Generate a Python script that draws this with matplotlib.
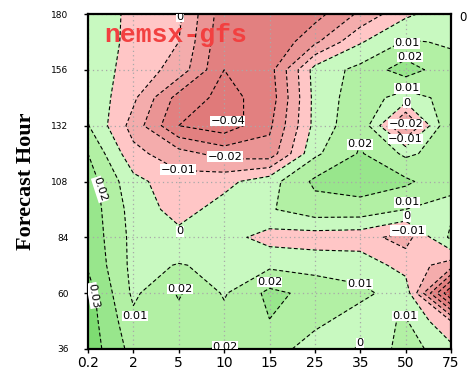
import numpy as np
import matplotlib
matplotlib.use("Agg")
import matplotlib.pyplot as plt

# ---------------- data ----------------
x_labels = ['0.2', '2', '5', '10', '15', '25', '35', '50', '75']
hours = [36, 48, 60, 72, 84, 96, 108, 120, 132, 144, 156, 168, 180]
y_ticks = [36, 60, 84, 108, 132, 156, 180]

# field values per forecast hour (one value per x category)
f180 = [0.008, -0.003, -0.008, -0.036, -0.038, -0.034, -0.018, -0.002, 0.006]
f168 = [0.007, -0.003, -0.010, -0.038, -0.040, -0.022, -0.001, 0.011, 0.009]
f156 = [0.006, -0.004, -0.014, -0.040, -0.034, 0.004, 0.013, 0.025, 0.013]
f144 = [0.008, -0.008, -0.034, -0.043, -0.036, 0.003, 0.016, 0.005, 0.014]
f132 = [0.0105, -0.014, -0.040, -0.046, -0.032, 0.003, 0.018, -0.024, 0.021]
f120 = [0.020, -0.007, -0.016, -0.024, -0.026, 0.008, 0.021, 0.008, 0.015]
f108 = [0.025, 0.003, -0.006, -0.003, 0.006, 0.022, 0.025, 0.022, 0.012]
f96 = [0.026, 0.006, -0.004, 0.004, 0.009, 0.016, 0.016, 0.010, 0.008]
f84 = [0.027, 0.007, 0.003, 0.004, -0.004, -0.005, -0.006, -0.014, 0.012]
f72 = [0.029, 0.007, 0.0105, 0.008, 0.008, 0.006, 0.006, -0.004, -0.015]
f60 = [0.034, 0.008, 0.021, 0.009, 0.0225, 0.017, 0.012, 0.006, -0.060]
f48 = [0.035, 0.0125, 0.017, 0.013, 0.0198, 0.012, 0.006, 0.011, -0.010]
f36 = [0.036, 0.0163, 0.018, 0.021, 0.014, 0.006, -0.001, 0.015, 0.003]

fill_levels = [-1.0, -0.05, -0.04, -0.03, -0.02, -0.01, 0.0, 0.01, 0.02, 0.03, 1.0]
fill_colors = ['#d65a5a', '#e07a7a', '#e28080', '#ea9494', '#f4acac', '#ffc6c6',
               '#c8f9c0', '#b2f0a4', '#98e68c', '#7edc72']
line_levels = [-0.05, -0.04, -0.03, -0.02, -0.01, 0.0, 0.01, 0.02, 0.03]

# contour label texts and where they sit
label_text = ['0', '0.01', '0.02', '0.01', '0', '\u22120.02', '\u22120.01', '0.02',
              '\u22120.04', '\u22120.02', '\u22120.01', '0.02', '0', '0.01', '0',
              '\u22120.01', '0.02', '0.02', '0.01', '0.01', '0.03', '0.02', '0',
              '0.01']
label_x = [2.03, 7.03, 7.09, 7.03, 7.03, 7.0, 7.0, 5.99,
           3.08, 3.02, 1.98, 0.26, 2.03, 7.03, 7.03,
           7.05, 2.03, 4.0, 6.0, 1.03, 0.12, 3.02, 5.99,
           6.98]
label_y = [178.8, 167.4, 161.4, 148.0, 141.9, 132.8, 126.2, 124.0,
           134.1, 118.7, 113.1, 104.6, 86.6, 99.0, 93.0,
           86.9, 61.7, 64.7, 63.9, 50.1, 59.0, 37.0, 38.6,
           50.1]
label_rot = [0, 0, 0, 0, 0, 0, 0, 0,
             0, 0, 0, -72, 0, 0, 0,
             0, 0, 0, 0, 0, -80, 0, 0,
             0]

# ---------------- plot ----------------
Z = np.array([f36, f48, f60, f72, f84, f96, f108, f120, f132, f144, f156, f168, f180])
X = np.arange(len(x_labels))

fig = plt.figure(figsize=(4.69, 3.71), dpi=100)
ax = fig.add_axes([88 / 469, 1 - 349 / 371, 363 / 469, 335 / 371])

ax.contourf(X, hours, Z, levels=fill_levels, colors=fill_colors, zorder=1)
cs = ax.contour(X, hours, Z, levels=line_levels, colors='black', linewidths=0.8, zorder=2)
cs.set_linestyle((0, (3.5, 2.2)))

for t, lx, ly, r in zip(label_text, label_x, label_y, label_rot):
    ax.text(lx, ly, t, fontsize=8.2, ha='center', va='center', rotation=r,
            family='DejaVu Sans', zorder=4, clip_on=True,
            bbox=dict(boxstyle='square,pad=0.02', fc='white', ec='none'))

# stray label outside the frame (top right)
ax.text(8.26, 178.3, '0', fontsize=8.5, ha='center', va='center', clip_on=False,
        family='DejaVu Sans')

ax.set_xlim(0, 8)
ax.set_ylim(36, 180)
ax.set_xticks(X)
ax.set_xticklabels(x_labels, fontsize=10)
ax.set_yticks(y_ticks)
ax.set_yticklabels([str(v) for v in y_ticks], fontsize=6.5)
ax.tick_params(direction='out', length=3, width=1, pad=2)
ax.tick_params(axis='y', pad=11)
ax.grid(True, color='#a8a8a8', linestyle=(0, (1, 2.5)), linewidth=0.9)
for s in ax.spines.values():
    s.set_linewidth(1.6)

ax.text(0.045, 0.972, 'nemsx-gfs', transform=ax.transAxes, ha='left', va='top',
        fontsize=19, fontweight='bold', family='Liberation Mono', color='#f24040',
        zorder=5)

fig.text(26 / 469, 1 - 181 / 371, 'Forecast Hour', rotation=90, ha='center',
         va='center', fontsize=16, fontweight='bold', family='Liberation Serif')

fig.savefig('out.png', dpi=100)
